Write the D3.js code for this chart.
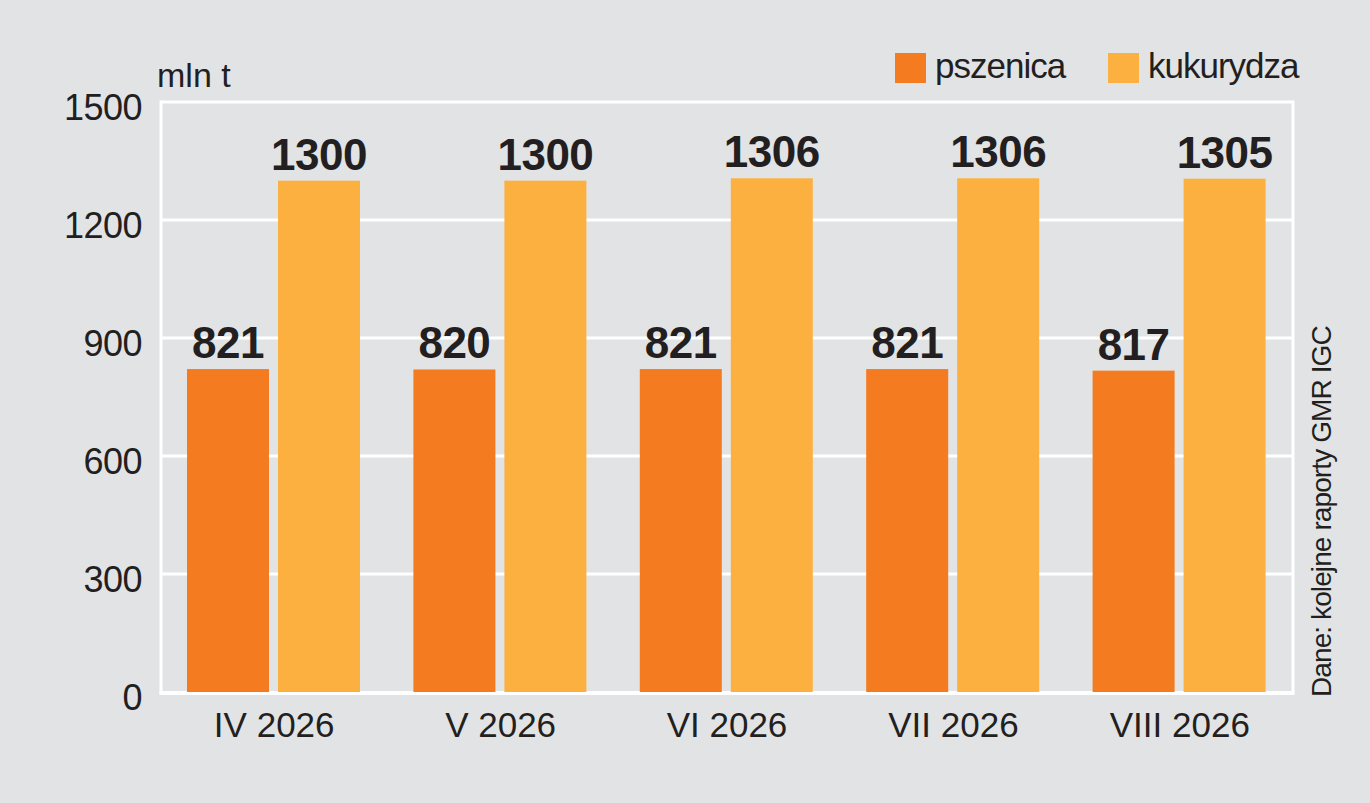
<!DOCTYPE html>
<html><head><meta charset="utf-8">
<script src="https://cdn.jsdelivr.net/npm/d3@7"></script>
<style>
html,body{margin:0;padding:0;background:#e2e3e5;}
svg{display:block;font-family:"Liberation Sans",Arial,Helvetica,sans-serif;}
</style></head>
<body>
<svg id="chart" width="1370" height="803"></svg>
<script>
const categories = ["IV 2026","V 2026","VI 2026","VII 2026","VIII 2026"];
const seriesNames = ["pszenica","kukurydza"];
const pszenica = [821, 820, 821, 821, 817];
const kukurydza = [1300, 1300, 1306, 1306, 1305];
const yTicks = [0, 300, 600, 900, 1200, 1500];
const colors = ["#f47b20", "#fbb040"];

const svg = d3.select("#chart");
svg.append("rect").attr("width",1370).attr("height",803).attr("fill","#e2e3e5");

const m = {left:161, right:1293, top:102, bottom:692};
const x = d3.scaleBand().domain(categories).range([m.left, m.right]).paddingInner(0).paddingOuter(0);
const sub = d3.scaleBand().domain(seriesNames).range([26, 26+82+9+82]).paddingInner(9/91).paddingOuter(0);
const y = d3.scaleLinear().domain([0,1500]).range([m.bottom, m.top]);

// gridlines
svg.append("g").selectAll("line").data(yTicks.filter(d=>d>0)).join("line")
  .attr("x1", m.left).attr("x2", m.right)
  .attr("y1", d=>y(d)).attr("y2", d=>y(d))
  .attr("stroke","#ffffff").attr("stroke-width",3);
// borders
svg.append("line").attr("x1",m.left).attr("x2",m.left).attr("y1",m.top-1.5).attr("y2",m.bottom+2)
  .attr("stroke","#fff").attr("stroke-width",3);
svg.append("line").attr("x1",m.right).attr("x2",m.right).attr("y1",m.top-1.5).attr("y2",m.bottom+2)
  .attr("stroke","#fff").attr("stroke-width",3);
svg.append("line").attr("x1",m.left-1.5).attr("x2",m.right+1.5).attr("y1",m.bottom+1).attr("y2",m.bottom+1)
  .attr("stroke","#fff").attr("stroke-width",4);

// y axis labels
const yAxis = d3.axisLeft(y).tickValues(yTicks).tickFormat(d3.format("d")).tickSize(0).tickPadding(19);
const ga = svg.append("g").attr("transform",`translate(${m.left},6)`).call(yAxis);
ga.select(".domain").remove();
ga.selectAll("text").attr("font-size",36).attr("fill","#231f20")
  .attr("font-family","'Liberation Sans',Arial,sans-serif").attr("letter-spacing","-0.5");

// x axis labels
const xAxis = d3.axisBottom(x).tickSize(0).tickPadding(20);
const gx = svg.append("g").attr("transform",`translate(0,${m.bottom})`).call(xAxis);
gx.select(".domain").remove();
gx.selectAll("text").attr("font-size",35).attr("fill","#231f20")
  .attr("font-family","'Liberation Sans',Arial,sans-serif").attr("letter-spacing","0");

// bars
const data = categories.map((c,i)=>({cat:c, vals:[{s:seriesNames[0],v:pszenica[i]},{s:seriesNames[1],v:kukurydza[i]}]}));
const groups = svg.append("g").selectAll("g").data(data).join("g")
  .attr("transform", d=>`translate(${x(d.cat)},0)`);
groups.selectAll("rect").data(d=>d.vals).join("rect")
  .attr("x", d=>sub(d.s)).attr("width", sub.bandwidth())
  .attr("y", d=>y(d.v)).attr("height", d=>y(0)-y(d.v))
  .attr("fill", (d,i)=>colors[i]);
groups.selectAll("text").data(d=>d.vals).join("text")
  .attr("x", d=>sub(d.s)+sub.bandwidth()/2)
  .attr("y", d=>y(d.v)-11)
  .attr("text-anchor","middle")
  .attr("font-size",44).attr("font-weight","bold").attr("fill","#231f20")
  .attr("letter-spacing","-0.5")
  .text(d=>d.v);

// unit
svg.append("text").attr("x",157).attr("y",87).attr("font-size",34).attr("fill","#231f20")
  .attr("letter-spacing","0").text("mln t");

// legend
const legX = [895, 1108];
seriesNames.forEach((s,i)=>{
  svg.append("rect").attr("x",legX[i]).attr("y",53).attr("width",31).attr("height",30).attr("fill",colors[i]);
  svg.append("text").attr("x",legX[i]+40).attr("y",78).attr("font-size",35).attr("fill","#231f20")
    .attr("letter-spacing","-1").text(s);
});

// source
svg.append("text").attr("transform","translate(1331,697) rotate(-90)")
  .attr("font-size",28).attr("fill","#231f20").attr("letter-spacing","-0.9")
  .text("Dane: kolejne raporty GMR IGC");
</script>
</body></html>
